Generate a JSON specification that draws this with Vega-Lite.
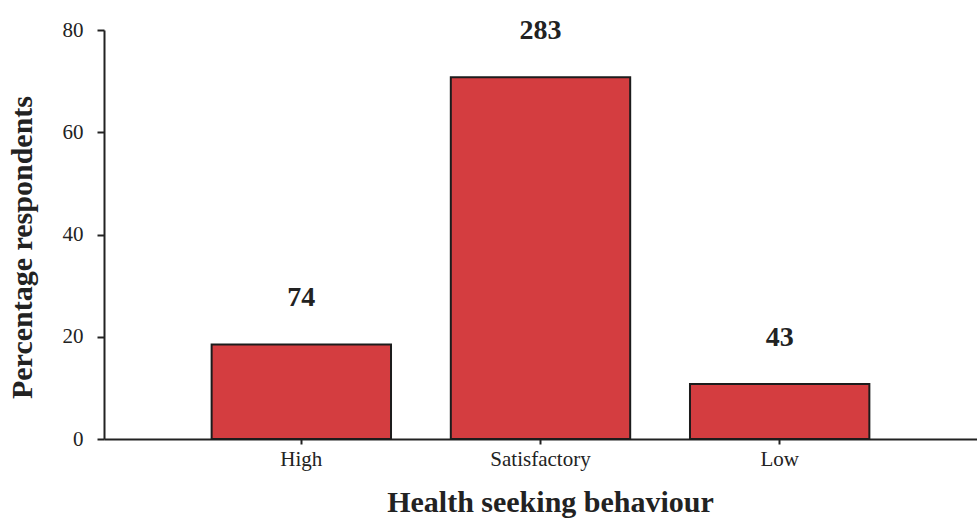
{
  "$schema": "https://vega.github.io/schema/vega-lite/v6.json",
  "autosize": "none",
  "padding": {"top": 30, "left": 104, "right": 0, "bottom": 83},
  "width": 873,
  "height": 409,
  "background": "white",
  "data": {
    "values": [
      {"behaviour": "High", "respondents": 74, "percent": 18.5},
      {"behaviour": "Satisfactory", "respondents": 283, "percent": 70.75},
      {"behaviour": "Low", "respondents": 43, "percent": 10.75}
    ]
  },
  "config": {
    "view": {"stroke": null},
    "font": "Liberation Serif",
    "axis": {
      "domainColor": "#222",
      "domainWidth": 2,
      "tickColor": "#222",
      "tickWidth": 2,
      "grid": false,
      "labelFont": "Liberation Serif",
      "labelColor": "#222",
      "titleFont": "Liberation Serif",
      "titleColor": "#222",
      "titleFontWeight": "bold"
    }
  },
  "encoding": {
    "x": {
      "field": "behaviour",
      "type": "nominal",
      "sort": ["High", "Satisfactory", "Low"],
      "scale": {"paddingInner": 0.25, "paddingOuter": 0.45},
      "axis": {
        "title": "Health seeking behaviour",
        "titleFontSize": 30,
        "titleX": 446,
        "titleY": 72,
        "titleBaseline": "alphabetic",
        "labelAngle": 0,
        "labelFontSize": 21,
        "tickSize": 5,
        "labelPadding": 4
      }
    },
    "y": {
      "field": "percent",
      "type": "quantitative",
      "scale": {"domain": [0, 80], "nice": false},
      "axis": {
        "title": "Percentage respondents",
        "titleFontSize": 30,
        "titleX": -82,
        "titleY": 217,
        "titleBaseline": "middle",
        "values": [0, 20, 40, 60, 80],
        "labelFontSize": 21,
        "tickSize": 7,
        "labelPadding": 14
      }
    }
  },
  "layer": [
    {
      "mark": {"type": "bar", "fill": "#d43d40", "stroke": "#1c1c1c", "strokeWidth": 2}
    },
    {
      "mark": {
        "type": "text",
        "fontSize": 28,
        "fontWeight": "bold",
        "color": "#222",
        "baseline": "alphabetic",
        "dy": -38
      },
      "encoding": {"text": {"field": "respondents", "type": "quantitative"}}
    }
  ]
}
